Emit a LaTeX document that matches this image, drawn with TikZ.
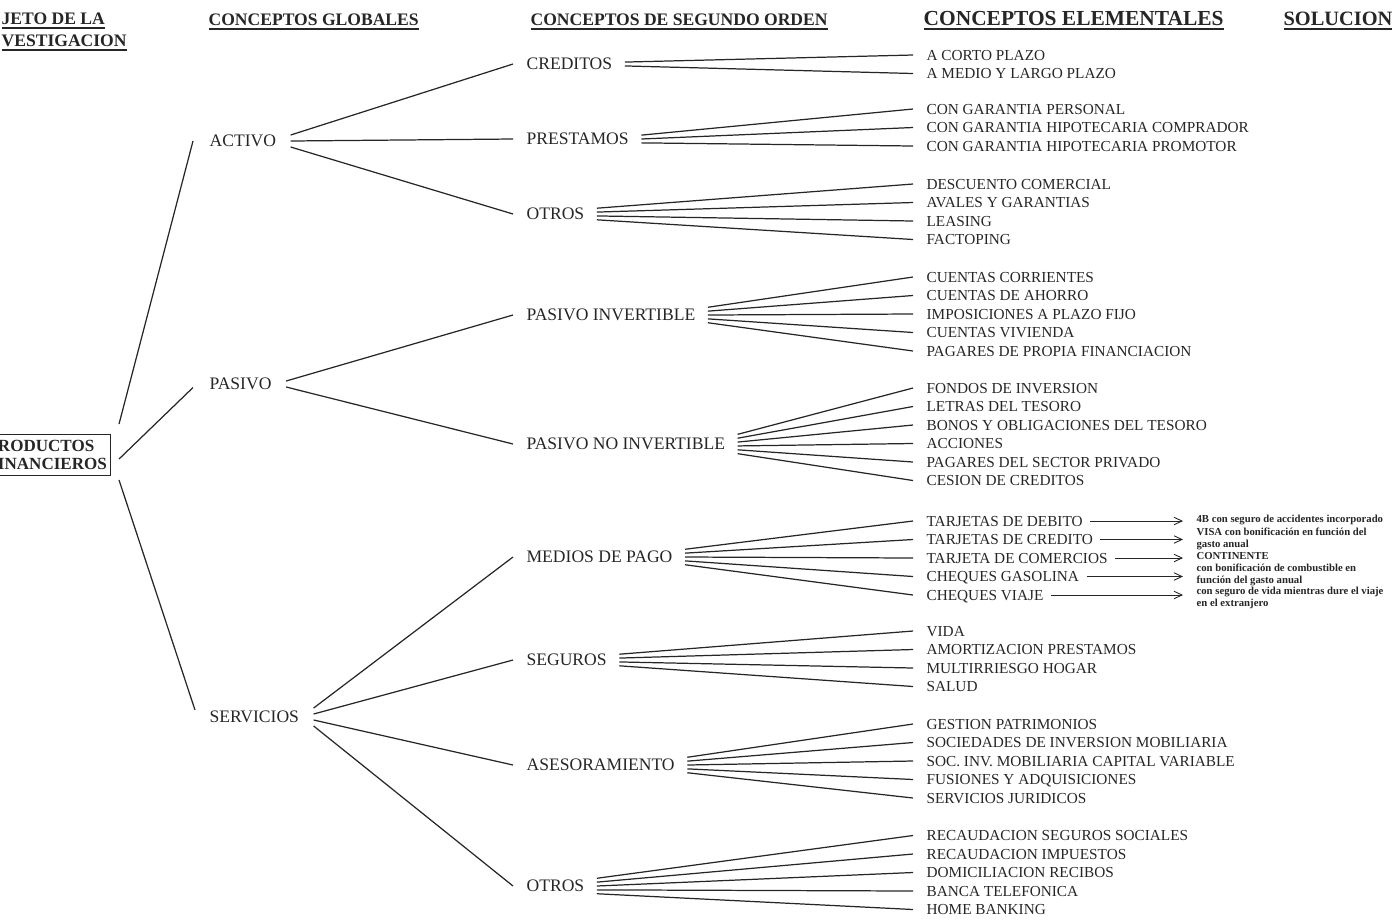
\documentclass[tikz,border=0pt]{standalone}
\usepackage{fontspec}
\setmainfont{Liberation Serif}
\usetikzlibrary{arrows.meta}
\newcommand{\subrayar}[1]{\setbox0=\hbox{#1}\rlap{\vrule height -1.5pt depth 2.6pt width \wd0}\box0}

\begin{document}
\begin{tikzpicture}[x=0.02cm,y=-0.02cm,>={Straight Barb[length=1.6mm,width=1.5mm]},
    color=black!85,line width=0.7pt,
    titulo/.style={font=\bfseries\fontsize{10}{12.5}\selectfont,inner sep=0pt,anchor=base west},
    nivel/.style={font=\fontsize{10}{12}\selectfont,inner sep=0pt,text depth=0pt,anchor=west},
    hoja/.style={font=\fontsize{8.7}{10}\selectfont,inner sep=0pt,text depth=0pt,anchor=west},
    sol/.style={font=\bfseries\fontsize{6.1}{6.8}\selectfont,inner sep=0pt,anchor=west,align=left}]
        \useasboundingbox (0,0) rectangle (1397,921);
        \node[titulo,align=left,anchor=north west] (sujeto) at (1,12) {\subrayar{JETO DE LA}\\\subrayar{VESTIGACION}};
        \node[titulo] (globales) at (208,25.5) {\subrayar{CONCEPTOS GLOBALES}};
        \node[titulo] (segundo) at (530,25.5) {\subrayar{CONCEPTOS DE SEGUNDO ORDEN}};
        \node[titulo,font=\bfseries\fontsize{12.2}{14}\selectfont] (elementales) at (923,25.5) {\subrayar{CONCEPTOS ELEMENTALES}};
        \node[titulo,font=\bfseries\fontsize{11.6}{14}\selectfont] (solucion) at (1283,25.5) {\subrayar{SOLUCION}};

        \node[draw,align=left,font=\bfseries\fontsize{9.7}{10.2}\selectfont,inner xsep=2pt,inner ysep=3.5pt,anchor=east] (productos) at (111,455) {RODUCTOS\\INANCIEROS};

        \node[nivel] (activo) at (209,141) {ACTIVO};
        \node[nivel] (pasivo) at (209,384) {PASIVO};
        \node[nivel] (servicios) at (209,717) {SERVICIOS};

        \node[nivel] (creditos) at (526,64) {CREDITOS};
        \node[nivel] (prestamos) at (526,139) {PRESTAMOS};
        \node[nivel] (otros) at (526,214) {OTROS};
        \node[nivel] (invertible) at (526,315) {PASIVO INVERTIBLE};
        \node[nivel] (noinvertible) at (526,444) {PASIVO NO INVERTIBLE};
        \node[nivel] (pago) at (526,557) {MEDIOS DE PAGO};
        \node[nivel] (seguros) at (526,660) {SEGUROS};
        \node[nivel] (asesor) at (526,765) {ASESORAMIENTO};
        \node[nivel] (otrosserv) at (526,886) {OTROS};

        \foreach \t [count=\i] in {A CORTO PLAZO,A MEDIO Y LARGO PLAZO}
        \node[hoja] (creditos-\i) at (926,36.5+18.5*\i) {\t};
        \foreach \t [count=\i] in {CON GARANTIA PERSONAL,CON GARANTIA HIPOTECARIA COMPRADOR,CON GARANTIA HIPOTECARIA PROMOTOR}
        \node[hoja] (prestamos-\i) at (926,90.5+18.5*\i) {\t};
        \foreach \t [count=\i] in {DESCUENTO COMERCIAL,AVALES Y GARANTIAS,LEASING,FACTOPING}
        \node[hoja] (otros-\i) at (926,165.5+18.5*\i) {\t};
        \foreach \t [count=\i] in {CUENTAS CORRIENTES,CUENTAS DE AHORRO,IMPOSICIONES A PLAZO FIJO,CUENTAS VIVIENDA,PAGARES DE PROPIA FINANCIACION}
        \node[hoja] (invertible-\i) at (926,258.5+18.5*\i) {\t};
        \foreach \t [count=\i] in {FONDOS DE INVERSION,LETRAS DEL TESORO,BONOS Y OBLIGACIONES DEL TESORO,ACCIONES,PAGARES DEL SECTOR PRIVADO,CESION DE CREDITOS}
        \node[hoja] (noinvertible-\i) at (926,369.5+18.5*\i) {\t};
        \foreach \t [count=\i] in {TARJETAS DE DEBITO,TARJETAS DE CREDITO,TARJETA DE COMERCIOS,CHEQUES GASOLINA,CHEQUES VIAJE}
        \node[hoja] (pago-\i) at (926,502.5+18.5*\i) {\t};
        \foreach \t [count=\i] in {VIDA,AMORTIZACION PRESTAMOS,MULTIRRIESGO HOGAR,SALUD}
        \node[hoja] (seguros-\i) at (926,612.5+18.5*\i) {\t};
        \foreach \t [count=\i] in {GESTION PATRIMONIOS,SOCIEDADES DE INVERSION MOBILIARIA,SOC. INV. MOBILIARIA CAPITAL VARIABLE,FUSIONES Y ADQUISICIONES,SERVICIOS JURIDICOS}
        \node[hoja] (asesor-\i) at (926,705.5+18.5*\i) {\t};
        \foreach \t [count=\i] in {RECAUDACION SEGUROS SOCIALES,RECAUDACION IMPUESTOS,DOMICILIACION RECIBOS,BANCA TELEFONICA,HOME BANKING}
        \node[hoja] (otrosserv-\i) at (926,817+18.5*\i) {\t};

        \node[sol] (sol-1) at (1196,520) {4B con seguro de accidentes incorporado};
        \node[sol] (sol-2) at (1196,539) {VISA con bonificación en función del\\gasto anual};
        \node[sol] (sol-3) at (1196,556) {CONTINENTE};
        \node[sol] (sol-4) at (1196,575) {con bonificación de combustible en\\función del gasto anual};
        \node[sol] (sol-5) at (1196,598) {con seguro de vida mientras dure el viaje\\en el extranjero};

        \draw ([xshift=0.16cm,yshift=17.6pt]productos.east)--([xshift=-0.32cm]activo.west);
        \draw ([xshift=0.16cm,yshift=-2.3pt]productos.east)--([xshift=-0.32cm,yshift=-2pt]pasivo.west);
        \draw ([xshift=0.16cm,yshift=-14.2pt]productos.east)--([xshift=-0.28cm,yshift=4pt]servicios.west);
        \foreach \a/\b/\s in {activo/creditos/1,activo/prestamos/0,activo/otros/-1,pasivo/invertible/0.5,pasivo/noinvertible/-0.5,servicios/pago/1.5,servicios/seguros/0.5,servicios/asesor/-0.5,servicios/otrosserv/-1.5}{
        \draw ([xshift=0.28cm,yshift=\s*3.4pt]\a.east)--([xshift=-0.26cm]\b.west);
        }
        \foreach \a/\n in {creditos/2,prestamos/3,otros/4,invertible/5,noinvertible/6,pago/5,seguros/4,asesor/5,otrosserv/5}{
        \foreach \i in {1,...,\n}
        \draw ([xshift=0.24cm,yshift={((\n+1)/2-\i)*2.2pt}]\a.east)--([xshift=-0.26cm]\a-\i.west);
        }
        \foreach \i in {1,...,5}
        \draw[->,line width=0.5pt,shorten <=0.14cm,shorten >=0.26cm](pago-\i.east)--(pago-\i.east-|sol-\i.west);
    \end{tikzpicture}
\end{document}
